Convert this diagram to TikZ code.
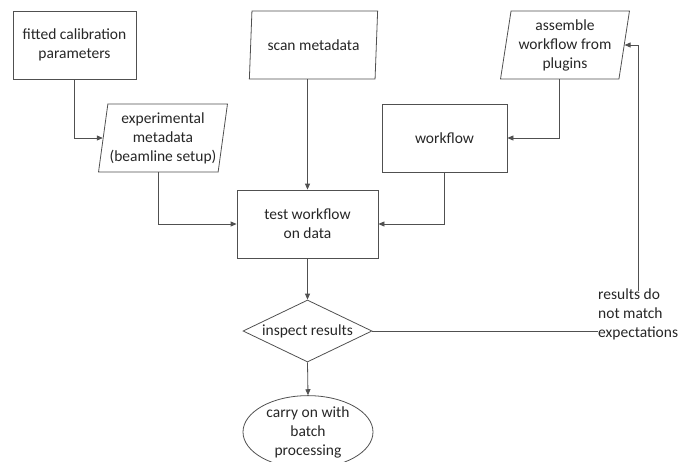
\documentclass[tikz,border=0pt]{standalone}
\usepackage{fontspec}
\setmainfont{Carlito}
\usetikzlibrary{shapes,arrows,arrows.meta,positioning,calc}
\definecolor{strek}{HTML}{505050}
\definecolor{tekst}{HTML}{262626}
\tikzset{
  %Define standard arrow tip
  >={Triangle[length=6pt,width=5pt]},
  %Define style for boxes
  punkt/.style={
    rectangle,
    draw=strek, line width=0.8pt,
    minimum height=68pt,
    inner sep=0pt,
    align=center,
    text=tekst,
    font=\fontsize{15.5}{19}\selectfont},
  % Define style for data inputs
  data/.style={
    punkt,
    trapezium,
    trapezium left angle=80,
    trapezium right angle=100,
    trapezium stretches=true,
    minimum width=129pt},
  % Define style for the decision
  valg/.style={
    punkt,
    diamond,
    aspect=2.08,
    minimum width=129pt,
    minimum height=62pt},
  % Define style for the end
  slutt/.style={
    punkt,
    ellipse,
    minimum width=130pt,
    minimum height=68pt},
  % Define arrow style
  pil/.style={
    ->,
    draw=strek,
    line width=0.8pt}
}

\begin{document}
\begin{tikzpicture}[x=1pt,y=-1pt]
    \useasboundingbox (0,0) rectangle (678,461);
    \node[punkt, minimum width=123pt] (kalib) at (74.5,45) {fitted calibration\\parameters};
    \node[data] (skann) at (313.5,45) {scan metadata};
    \node[data] (asm) at (565,45) {assemble\\workflow from\\plugins};
    \node[data] (eksp) at (163,138) {experimental\\metadata\\(beamline setup)};
    \node[punkt, minimum width=125pt] (wf) at (444.5,138) {workflow};
    \node[punkt, minimum width=141pt] (test) at (307.5,224) {test workflow\\on data};
    \node[valg] (insp) at (307.5,331) {inspect results};
    \node[slutt] (batch) at (308,432) {carry on with\\batch\\processing};
    \node[anchor=west, align=left, inner sep=0pt, text=tekst,
      font=\fontsize{15.5}{19}\selectfont] (nei) at (598,314)
      {results do\\not match\\expectations};
    % midpoints of the lower edges
    \coordinate (eksp-ut) at ($(eksp.bottom left corner)!0.5!(eksp.bottom right corner)$);
    \coordinate (asm-ut) at ($(asm.bottom left corner)!0.5!(asm.bottom right corner)$);
    \path[pil]
    (kalib.south) |- (eksp.left side);
    \path[pil]
    (eksp-ut) |- (test.west);
    \path[pil]
    (test.north |- skann.south) -- (test.north);
    \path[pil]
    (asm-ut) |- (wf.east);
    \path[pil]
    (wf.south) |- (test.east);
    \path[pil]
    (test.south) -- (insp.north);
    \path[pil]
    (insp.south) -- (batch.north);
    \draw[draw=strek, line width=0.8pt] (insp.east) -- (insp.east -| nei.west);
    \path[pil]
    ([yshift=-3pt]nei.north) |- (asm.right side);
\end{tikzpicture}
\end{document}
